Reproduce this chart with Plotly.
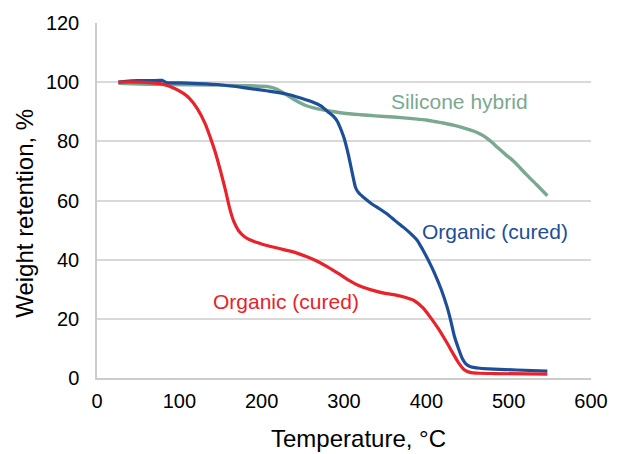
import plotly.graph_objects as go

# Temperature (°C) and weight retention (%)
red_t = [26, 40, 60, 80, 95, 105, 112, 122, 132, 138, 144, 150, 156, 161, 166, 172, 180, 190, 199,
         215, 228, 242, 255, 268, 280, 295, 305, 320, 333, 350, 362, 375, 385, 396, 405, 415, 425,
         432, 439, 446, 453, 465, 482, 547]
red_w = [100.0, 100.1, 99.9, 99.3, 97.8, 96.2, 94.6, 91.0, 85.6, 81.0, 76.0, 70.0, 63.5, 57.5, 53.0,
         49.8, 47.6, 46.2, 45.4, 44.2, 43.3, 42.3, 41.0, 39.4, 37.6, 35.0, 33.2, 31.0, 29.8, 28.6,
         28.1, 27.2, 26.2, 23.7, 20.5, 16.5, 11.9, 8.5, 5.2, 2.8, 1.9, 1.6, 1.5, 1.3]

blue_t = [26, 35, 50, 65, 79, 84, 110, 146, 180, 208, 230, 242, 261, 272, 280, 287, 292, 297, 300,
          304, 307, 311, 314, 318, 324, 333, 343, 352, 362, 372, 381, 389, 396, 403, 410, 418, 425,
          430, 434, 439, 444, 448, 453, 465, 482, 510, 547]
blue_w = [100.0, 100.3, 100.5, 100.5, 100.6, 99.9, 99.7, 99.2, 98.1, 97.0, 96.0, 95.1, 93.4, 92.0,
          90.1, 88.5, 86.7, 83.5, 81.2, 77.0, 73.3, 68.0, 64.4, 62.5, 61.0, 59.0, 57.2, 55.5, 53.2,
          51.0, 48.8, 46.5, 43.2, 39.5, 35.4, 30.0, 24.2, 19.0, 14.2, 10.0, 6.4, 4.8, 3.9, 3.3, 3.0,
          2.7, 2.3]

green_t = [26, 60, 84, 146, 180, 208, 218, 225, 232, 242, 252, 263, 276, 288, 300, 320, 338, 360,
           386, 400, 410, 422, 434, 446, 458, 466, 473, 480, 487, 496, 506, 514, 521, 534, 547]
green_w = [99.6, 99.3, 99.2, 99.0, 98.8, 98.5, 97.7, 96.6, 95.4, 93.7, 92.3, 91.3, 90.6, 90.0, 89.5,
           89.0, 88.6, 88.2, 87.6, 87.2, 86.7, 86.1, 85.4, 84.5, 83.4, 82.4, 81.2, 79.6, 77.8, 75.6,
           73.3, 71.0, 68.9, 65.3, 61.6]

x_ticks = [0, 100, 200, 300, 400, 500, 600]
y_ticks = [0, 20, 40, 60, 80, 100, 120]

RED = "#e8232b"
BLUE = "#1d4f98"
GREEN = "#7aa891"
FONT = "Liberation Sans, Arial, Helvetica, sans-serif"

fig = go.Figure()
fig.add_trace(go.Scatter(x=green_t, y=green_w, mode="lines",
                         line=dict(color=GREEN, width=3.4, shape="spline", smoothing=0.6)))
fig.add_trace(go.Scatter(x=blue_t, y=blue_w, mode="lines",
                         line=dict(color=BLUE, width=3.2, shape="spline", smoothing=0.6)))
fig.add_trace(go.Scatter(x=red_t, y=red_w, mode="lines",
                         line=dict(color=RED, width=3.2, shape="spline", smoothing=0.6)))

annos = [
    dict(x=440, y=93.4, text="Silicone hybrid", color=GREEN),
    dict(x=483, y=49.5, text="Organic (cured)", color=BLUE),
    dict(x=229.5, y=25.9, text="Organic (cured)", color=RED),
]
for a in annos:
    fig.add_annotation(x=a["x"], y=a["y"], xref="x", yref="y", text=a["text"], showarrow=False,
                       font=dict(family=FONT, size=21, color=a["color"]),
                       xanchor="center", yanchor="middle")

fig.add_annotation(x=0.530, y=-0.171, xref="paper", yref="paper", text="Temperature, °C",
                   showarrow=False, font=dict(family=FONT, size=24, color="#000"),
                   xanchor="center", yanchor="middle")
fig.add_annotation(x=-0.146, y=0.465, xref="paper", yref="paper", text="Weight retention, %",
                   showarrow=False, textangle=-90, font=dict(family=FONT, size=24, color="#000"),
                   xanchor="center", yanchor="middle")

fig.update_layout(
    width=620, height=454,
    margin=dict(l=97, r=29, t=21, b=76),
    paper_bgcolor="white", plot_bgcolor="white",
    showlegend=False,
    font=dict(family=FONT, size=20, color="#000"),
)
fig.update_xaxes(range=[0, 600], tickvals=x_ticks, ticktext=[str(v) for v in x_ticks],
                 showgrid=False, zeroline=False, showline=True, linecolor="#cccccc", linewidth=1.5,
                 ticks="outside", ticklen=4, tickcolor="rgba(0,0,0,0)",
                 tickfont=dict(family=FONT, size=20, color="#000"))
fig.update_yaxes(range=[0, 120], tickvals=y_ticks, ticktext=[str(v) for v in y_ticks],
                 showgrid=True, gridcolor="#d9d9d9", gridwidth=1.5, zeroline=False,
                 showline=True, linecolor="#cccccc", linewidth=1.5,
                 ticks="outside", ticklen=12, tickcolor="rgba(0,0,0,0)",
                 tickfont=dict(family=FONT, size=20, color="#000"))

fig.write_html("out.html", config={"displayModeBar": False},
               post_script="document.body.style.margin='0';document.body.style.padding='0';")
